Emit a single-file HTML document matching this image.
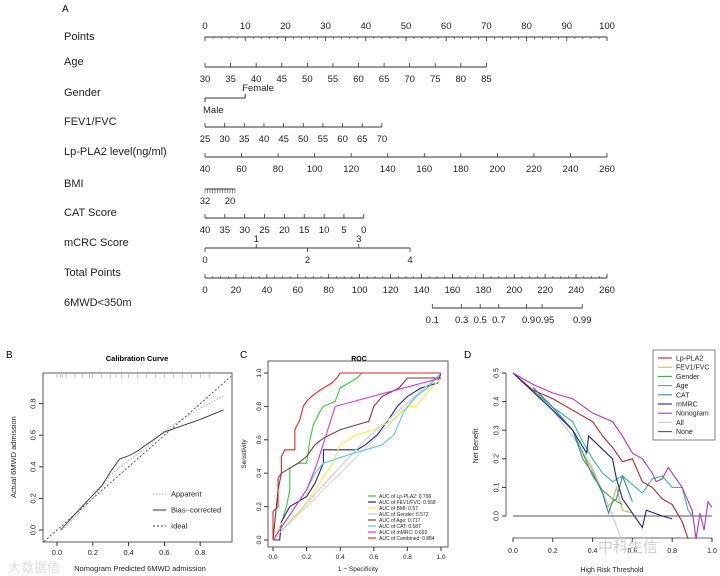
<!DOCTYPE html>
<html><head><meta charset="utf-8"><style>
html,body{margin:0;padding:0;background:#fff}
svg{display:block;font-family:"Liberation Sans",sans-serif}
</style></head><body>
<svg id="fig" width="720" height="576" viewBox="0 0 720 576">
<text x="62" y="12" font-size="10">A</text>
<g id="nomo"></g>
<text x="6" y="358" font-size="10">B</text>
<text x="137" y="361" font-size="7.5" font-weight="bold" text-anchor="middle">Calibration Curve</text>
<g id="calib"></g>
<text x="240" y="358" font-size="10">C</text>
<text x="359" y="361" font-size="7" font-weight="bold" text-anchor="middle">ROC</text>
<g id="roc"></g>
<text x="464" y="358" font-size="10">D</text>
<g id="dca"></g>
<text x="8" y="572" font-size="13" fill="#ddd">大数据信</text>
<text x="598" y="552" font-size="15" fill="#ccc">中科生信</text>
</svg>
<script>
const NS="http://www.w3.org/2000/svg";
function mk(p,t,a){const e=document.createElementNS(NS,t);for(const k in a)e.setAttribute(k,a[k]);p.appendChild(e);return e;}
function txt(p,x,y,s,sz,anc,extra){const e=mk(p,'text',Object.assign({x:x,y:y,'font-size':sz,'text-anchor':anc||'middle',fill:'#222'},extra||{}));e.textContent=s;return e;}

// ---------- Nomogram data ----------
const rowNames=["Points","Age","Gender","FEV1/FVC","Lp-PLA2 level(ng/ml)","BMI","CAT Score","mCRC Score","Total Points","6MWD<350m"];
const pointsTicks=[0,10,20,30,40,50,60,70,80,90,100];
const ageTicks=[30,35,40,45,50,55,60,65,70,75,80,85];
const fevTicks=[25,30,35,40,45,50,55,60,65,70];
const lpTicks=[40,60,80,100,120,140,160,180,200,220,240,260];
const catTicks=[40,35,30,25,20,15,10,5,0];
const mcrcTicks=[0,1,2,3,4];
const totalTicks=[0,20,40,60,80,100,120,140,160,180,200,220,240,260];
const probTicks=[0.1,0.3,0.5,0.7,0.9,0.95,0.99];
const probLabels=["0.1","0.3","0.5","0.7","0.9","0.95","0.99"];
const probPoints=[147,166,178,190,208,218,244];

const nomo=document.getElementById('nomo');
const rowY=[37,67,98,127,157,189,218,248,278,308];
const X0=205,X1=607;
const ptX=v=>X0+(X1-X0)*v/100;
rowNames.forEach((n,i)=>{const t=txt(nomo,64,rowY[i]+(i==0?3:-2),n,11,'start');

});
function axisRow(i,ticks,lin,labels,up,minor,labelBelow){
 const y=rowY[i];const xs=ticks.map(lin);
 const l=mk(nomo,'line',{x1:Math.min(...xs),x2:Math.max(...xs),y1:y,y2:y,stroke:'#333','stroke-width':1});
 
 
 if(minor){minor.forEach(v=>mk(nomo,'line',{x1:lin(v),x2:lin(v),y1:y,y2:y+(up?2:-2),stroke:'#333','stroke-width':0.6}));}
 ticks.forEach((v,k)=>{const x=lin(v);mk(nomo,'line',{x1:x,x2:x,y1:y,y2:y+(up?4:-4),stroke:'#333','stroke-width':0.8});
  const lab=labels?labels[k]:String(v);
  const below=labelBelow!==undefined?labelBelow:!up;
  const t=txt(nomo,x,below?y+15:y-8,lab,9.5);
  
  });
}
const pm=[];for(let v=0;v<=100;v+=2)pm.push(v);
axisRow(0,pointsTicks,ptX,null,true,pm,false);
axisRow(1,ageTicks,v=>ptX((v-30)/55*70),null,false);
// Gender
(function(){const y=rowY[2];const xF=ptX(10);
 mk(nomo,'line',{x1:X0,x2:xF,y1:y,y2:y,stroke:'#333'});
 mk(nomo,'line',{x1:X0,x2:X0,y1:y,y2:y+4,stroke:'#333'});mk(nomo,'line',{x1:xF,x2:xF,y1:y,y2:y-4,stroke:'#333'});
 txt(nomo,xF-3,y-7,'Female',9.5,'start');txt(nomo,X0-2,y+15,'Male',9.5,'start');})();
axisRow(3,fevTicks,v=>ptX((v-25)/45*44),null,false);
axisRow(4,lpTicks,v=>ptX((v-40)/220*100),null,false);
// BMI
(function(){const y=rowY[5];const f=v=>X0+(32-v)*2.5;
 mk(nomo,'line',{x1:f(32),x2:f(20),y1:y,y2:y,stroke:'#333'});
 for(let v=32;v>=20;v--)mk(nomo,'line',{x1:f(v),x2:f(v),y1:y,y2:y+4,stroke:'#333','stroke-width':0.6});
 txt(nomo,f(32),y+15,'32',9.5);txt(nomo,f(20)-5,y+15,'20',9.5);})();
axisRow(6,catTicks,v=>ptX((40-v)/40*39.5),null,false);
// mCRC
(function(){const y=rowY[7];const f=v=>ptX(v/4*51);
 mk(nomo,'line',{x1:f(0),x2:f(4),y1:y,y2:y,stroke:'#333'});
 mcrcTicks.forEach(v=>{mk(nomo,'line',{x1:f(v),x2:f(v),y1:y,y2:y+((v%2)?-4:4),stroke:'#333','stroke-width':0.8});
  txt(nomo,f(v),(v%2)?y-6:y+15,String(v),9.5);});})();
const tm=[];for(let v=0;v<=260;v+=5)tm.push(v);
axisRow(8,totalTicks,v=>ptX(v/260*100),null,false,tm,true);
// probability axis — positions from total points
(function(){const y=rowY[9];const f=p=>ptX(p/260*100);
 const xs=probPoints.map(f);
 mk(nomo,'line',{x1:xs[0],x2:xs[xs.length-1],y1:y,y2:y,stroke:'#333'});
 probTicks.forEach((v,k)=>{mk(nomo,'line',{x1:xs[k],x2:xs[k],y1:y,y2:y-4,stroke:'#333','stroke-width':0.8});
  const off=k==4?2:(k==5?3:0);
  txt(nomo,xs[k]+off,y+15,probLabels[k],9.5);});})();

// ---------- Calibration ----------
const calTicks=[0,0.2,0.4,0.6,0.8];
const apparentX=[0.03,0.1,0.2,0.3,0.4,0.5,0.6,0.7,0.8,0.93];
const apparentY=[0.0,0.08,0.2,0.35,0.44,0.52,0.63,0.7,0.77,0.85];
const biasX=[0.02,0.1,0.2,0.25,0.3,0.35,0.4,0.45,0.5,0.6,0.7,0.8,0.93];
const biasY=[0.0,0.1,0.22,0.28,0.37,0.45,0.47,0.5,0.54,0.62,0.66,0.7,0.76];
const rugX=[0.0,0.02,0.03,0.05,0.1,0.14,0.18,0.2,0.25,0.3,0.33,0.36,0.4,0.45,0.5,0.55,0.6,0.65,0.7,0.75,0.8,0.85];
(function(){const g=document.getElementById('calib');
 const sx=v=>57+v*179,sy=v=>530-v*158;
 mk(g,'rect',{x:43,y:373,width:189,height:169,fill:'none',stroke:'#333','stroke-width':0.8});
 calTicks.forEach(v=>{mk(g,'line',{x1:sx(v),x2:sx(v),y1:542,y2:546,stroke:'#333'});txt(g,sx(v),555,v.toFixed(1),7.5);
  mk(g,'line',{x1:43,x2:39,y1:sy(v),y2:sy(v),stroke:'#333'});txt(g,33,sy(v)+2.5,v.toFixed(1),7.5,'middle',{transform:`rotate(-90 33 ${sy(v)})`});});
 txt(g,140,571,'Nomogram Predicted 6MWD admission',7.5);
 txt(g,16,457,'Actual 6MWD admission',7.5,'middle',{transform:'rotate(-90 16 457)'});
 mk(g,'line',{x1:44,x2:231,y1:sy((44-57)/179),y2:sy((231-57)/179),stroke:'#333','stroke-dasharray':'2,2','stroke-width':0.8});
 rugX.forEach(v=>mk(g,'line',{x1:sx(v),x2:sx(v),y1:374,y2:378,stroke:'#888','stroke-width':0.5}));
 const pa=mk(g,'polyline',{points:apparentX.map((x,i)=>sx(x)+','+sy(apparentY[i])).join(' '),fill:'none',stroke:'#aaa','stroke-dasharray':'1.5,1.5'});
 
 const pb=mk(g,'polyline',{points:biasX.map((x,i)=>sx(x)+','+sy(biasY[i])).join(' '),fill:'none',stroke:'#333','stroke-width':0.9});
 
 [['Apparent','#aaa','1.5,1.5'],['Bias−corrected','#333',''],['Ideal','#333','2,2']].forEach((l,i)=>{const y=494+i*16;
  mk(g,'line',{x1:153,x2:166,y1:y,y2:y,stroke:l[1],'stroke-dasharray':l[2]});txt(g,171,y+2.5,l[0],7.5,'start');});
})();

// ---------- ROC ----------
const rocNames=["Lp-PLA2","FEV1/FVC","BMI","Gender","Age","CAT","mMRC","Combined"];
const rocAUC=["0.796","0.568","0.57","0.572","0.717","0.587","0.692","0.884"];
const rocColors=["#3c3","#22229a","#ee4","#ccc","#7a3b3b","#5cd","#d3d","#e22"];
const rocFPR=[
[0,0.05,0.08,0.1,0.1,0.15,0.2,0.22,0.24,0.28,0.3,0.37,0.4,0.45,0.5,0.53,1],
[0,0.04,0.05,0.1,0.15,0.2,0.25,0.3,0.3,0.5,0.55,0.62,0.68,0.74,0.8,0.88,0.98,1],
[0,0.05,0.15,0.25,0.35,0.4,0.5,0.6,0.7,0.8,0.85,0.9,1],
[0,0.3,0.55,0.8,1],
[0,0.03,0.05,0.1,0.15,0.2,0.25,0.3,0.4,0.5,0.57,0.6,0.65,0.75,0.8,1],
[0,0.1,0.2,0.25,0.3,0.45,0.55,0.65,0.72,0.78,0.85,0.92,1],
[0,0.2,0.26,0.37,1],
[0,0,0.03,0.03,0.05,0.05,0.07,0.13,0.13,0.16,0.18,0.2,0.23,0.27,0.3,0.35,0.38,0.4,1]];
const rocTPR=[
[0,0.1,0.2,0.3,0.43,0.46,0.46,0.6,0.69,0.77,0.8,0.83,0.91,0.94,0.97,1,1],
[0,0,0.11,0.2,0.23,0.26,0.34,0.46,0.54,0.54,0.57,0.63,0.71,0.8,0.86,0.91,0.94,1],
[0,0.1,0.15,0.3,0.45,0.57,0.63,0.66,0.71,0.8,0.8,0.86,0.97],
[0,0.33,0.6,0.82,1],
[0,0.3,0.4,0.43,0.46,0.5,0.57,0.61,0.66,0.69,0.71,0.8,0.86,0.91,0.97,0.97],
[0,0.15,0.3,0.4,0.46,0.51,0.54,0.57,0.63,0.77,0.86,0.91,1],
[0,0.3,0.45,0.8,0.97],
[0,0.17,0.2,0.37,0.4,0.5,0.54,0.54,0.66,0.72,0.8,0.83,0.86,0.89,0.91,0.94,0.97,1,1]];
const rocTicks=[0,0.2,0.4,0.6,0.8,1];
(function(){const g=document.getElementById('roc');
 const sx=v=>273+v*168,sy=v=>540-v*167;
 mk(g,'rect',{x:268,y:361,width:180,height:186,fill:'none',stroke:'#333','stroke-width':0.8});
 rocTicks.forEach(v=>{mk(g,'line',{x1:sx(v),x2:sx(v),y1:547,y2:551,stroke:'#333'});txt(g,sx(v),559,v.toFixed(1),6.5);
  mk(g,'line',{x1:268,x2:264,y1:sy(v),y2:sy(v),stroke:'#333'});txt(g,259,sy(v)+2,v.toFixed(1),6.5,'middle',{transform:`rotate(-90 259 ${sy(v)})`});});
 txt(g,358,571,'1 − Specificity',6.5);
 txt(g,246,454,'Sensitivity',6.5,'middle',{transform:'rotate(-90 246 454)'});
 mk(g,'line',{x1:sx(0),y1:sy(0),x2:sx(1),y2:sy(1),stroke:'#ccc','stroke-width':0.8});
 rocNames.forEach((n,i)=>{
  const pl=mk(g,'polyline',{points:rocFPR[i].map((x,k)=>sx(x)+','+sy(rocTPR[i][k])).join(' '),fill:'none',stroke:rocColors[i],'stroke-width':1.1});
  
  
  const y=496+i*6;
  mk(g,'line',{x1:368,x2:376,y1:y,y2:y,stroke:rocColors[i],'stroke-width':1.2});
  const t=txt(g,379,y+1.8,'AUC of '+n+':  '+rocAUC[i],5,'start');
  
  
 });
})();

// ---------- DCA ----------
const dcaNames=["Lp-PLA2","FEV1/FVC","Gender","Age","CAT","mMRC","Nonogram","All","None"];
const dcaColors=["#b22","#cb4","#4a4","#3b9","#38a","#22228a","#b3b","#ccc","#555"];
const dcaT=[
[0,0.1,0.2,0.3,0.4,0.45,0.5,0.55,0.6,0.65,0.7,0.75,0.8,0.85,0.88],
[0.35,0.4,0.45,0.47,0.5,0.52,0.55,0.6],
[0.1,0.2,0.3,0.35,0.4,0.45,0.5,0.55],
[0.08,0.2,0.3,0.35,0.4,0.45,0.5,0.55,0.6,0.65,0.7,0.75,0.8,0.85,0.88,0.9],
[0.1,0.2,0.3,0.35,0.4,0.45,0.48,0.5,0.52,0.55,0.6],
[0,0.2,0.3,0.37,0.38,0.5,0.52,0.55,0.65,0.67,0.75,0.8],
[0,0.1,0.2,0.3,0.4,0.5,0.55,0.6,0.65,0.7,0.72,0.75,0.78,0.8,0.85,0.9,0.92,0.94,0.96,0.98,1],
[0,0.2,0.33,0.4,0.5,0.55],
[0,1]];
const dcaNB=[
[0.5,0.44,0.41,0.37,0.33,0.28,0.24,0.19,0.2,0.12,0.1,0.06,0.04,-0.02,-0.08],
[0.22,0.16,0.08,0.03,0.05,0.1,0.02,0.01],
[0.45,0.38,0.3,0.22,0.14,0.09,0.06,0.04],
[0.45,0.38,0.33,0.26,0.2,0.15,0.12,0.14,0.11,0.08,0.13,0.14,0.1,0.1,0.02,0],
[0.45,0.38,0.3,0.2,0.15,0.08,0.01,0.05,0.06,0.14,0.05],
[0.5,0.37,0.3,0.22,0.28,0.2,0.13,0.06,-0.04,0.02,0,-0.01],
[0.5,0.46,0.43,0.41,0.36,0.33,0.28,0.22,0.2,0.15,0.12,0.13,0.17,0.15,0.1,0.02,-0.08,0.01,-0.05,0.05,0.03],
[0.5,0.37,0.25,0.17,0,-0.1],
[0,0]];
const dcaXTicks=[0,0.2,0.4,0.6,0.8,1];
const dcaYTicks=[0,0.1,0.2,0.3,0.4,0.5];
(function(){const g=document.getElementById('dca');
 const sx=v=>513+v*199,sy=v=>516-v*286;
 mk(g,'line',{x1:sx(0),x2:sx(1),y1:538,y2:538,stroke:'#333','stroke-width':0.8});
 mk(g,'line',{x1:506,x2:506,y1:sy(0),y2:sy(0.5),stroke:'#333','stroke-width':0.8});
 dcaXTicks.forEach(v=>{mk(g,'line',{x1:sx(v),x2:sx(v),y1:538,y2:542,stroke:'#333'});txt(g,sx(v),553,v.toFixed(1),7);});
 dcaYTicks.forEach(v=>{mk(g,'line',{x1:506,x2:502,y1:sy(v),y2:sy(v),stroke:'#333'});txt(g,496,sy(v)+2.5,v.toFixed(1),7,'middle',{transform:`rotate(-90 496 ${sy(v)})`});});
 txt(g,612,572,'High Risk Threshold',7);
 txt(g,478,446,'Net Benefit',7,'middle',{transform:'rotate(-90 478 446)'});
 const order=[7,8,1,2,3,4,0,5,6];
 order.forEach(i=>{
  const pl=mk(g,'polyline',{points:dcaT[i].map((x,k)=>sx(x)+','+sy(Math.max(dcaNB[i][k],-0.09))).join(' '),fill:'none',stroke:dcaColors[i],'stroke-width':1.1});
  
  });
 mk(g,'rect',{x:653,y:350,width:62,height:90,fill:'#fff',stroke:'#333','stroke-width':0.6});
 dcaNames.forEach((n,i)=>{const y=358+i*9.2;
  mk(g,'line',{x1:658,x2:672,y1:y,y2:y,stroke:dcaColors[i],'stroke-width':1.1});
  const t=txt(g,676,y+2.5,n,7,'start');
  
  });
})();
</script>
</body></html>
